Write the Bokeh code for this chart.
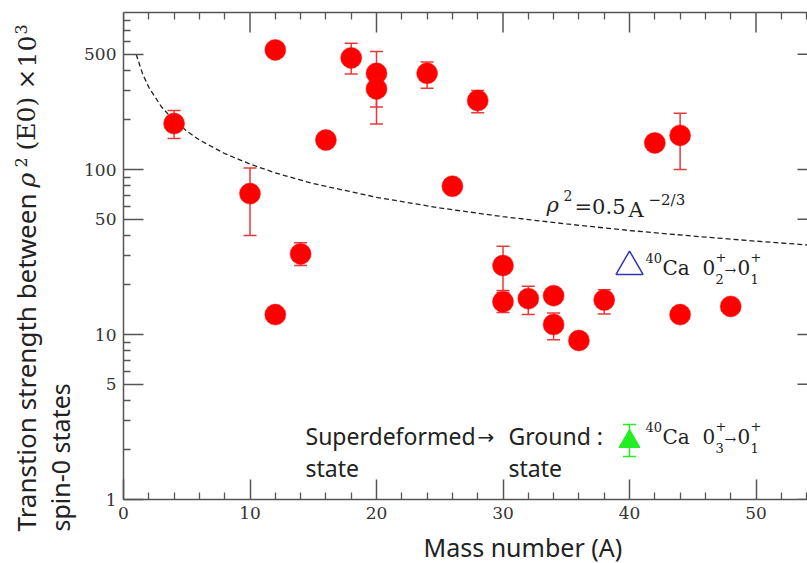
import math
from bokeh.plotting import figure
from bokeh.layouts import row, column
from bokeh.models import (FixedTicker, LinearAxis, Label, PrintfTickFormatter,
                          Range1d, ColumnDataSource)
from bokeh.embed import file_html
from bokeh.resources import INLINE

# ---------------- data ----------------
mass_number = [4, 10, 12, 12, 14, 16, 18, 20, 20, 24, 26, 28, 30, 30, 32, 34, 34, 36, 38, 42, 44, 44, 48]
rho2_e0 = [190, 71.5, 531, 13.2, 30.8, 151, 475, 383, 308, 383, 79.2, 262, 26.2, 15.8, 16.5, 17.2,
           11.5, 9.2, 16.2, 145, 161, 13.2, 14.8]

err_mass = [4, 10, 14, 18, 20, 20, 24, 28, 30, 30, 32, 34, 38, 44]
err_low = [154, 39.8, 26.2, 380, 239, 189, 311, 221, 18.5, 13.6, 13.2, 9.3, 13.3, 100]
err_high = [228, 102, 36.0, 582, 519, 383, 449, 301, 34.3, 18.0, 19.6, 13.5, 18.7, 219]

ca40_02_mass = [40]
ca40_02_rho = [25.8]

ca40_03_mass = [40]
ca40_03_rho = [2.25]
ca40_03_low = [1.82]
ca40_03_high = [2.85]

curve_mass = [1, 1.5, 2, 3, 4, 5, 6, 8, 10, 12, 15, 20, 25, 30, 35, 40, 45, 50, 55]
curve_rho = [500, 382, 315, 240, 198, 171, 151, 125, 108, 95.4, 82.2, 67.9, 58.5, 51.8, 46.8,
             42.7, 39.5, 36.8, 34.5]

x_major = [0, 10, 20, 30, 40, 50]
x_minor = [2, 4, 6, 8, 12, 14, 16, 18, 22, 24, 26, 28, 32, 34, 36, 38, 42, 44, 46, 48, 52, 54]
y_major = [1, 5, 10, 50, 100, 500]
y_minor = [2, 3, 4, 6, 7, 8, 9, 20, 30, 40, 60, 70, 80, 90, 200, 300, 400, 600, 700, 800]

X_END = 54.07
Y_END = 895

AXC = "#555555"
TXT = "#222222"
BASE = 0.43   # anchor sits this many em above the alphabetic baseline in the rendered text

# ---------------- layout sizes ----------------
W, H = 807, 563
YT_W = 80          # strip holding the y-axis title (full height)
XT_H = 33          # strip holding the x-axis title (under the main plot)
MAIN_W = W - YT_W
MAIN_H = H - XT_H


def blank(width, height):
    f = figure(width=width, height=height, x_range=Range1d(0, width), y_range=Range1d(0, height),
               output_backend="svg", toolbar_location=None, min_border=0,
               min_border_left=0, min_border_right=0, min_border_top=0, min_border_bottom=0,
               x_axis_location=None, y_axis_location=None)
    f.outline_line_color = None
    f.grid.visible = False
    return f


# ---------------- main figure ----------------
p = figure(width=MAIN_W, height=MAIN_H, x_range=Range1d(0, X_END), y_range=Range1d(1, Y_END),
           y_axis_type="log", output_backend="svg", toolbar_location=None,
           min_border_left=123 - YT_W, min_border_right=0, min_border_top=12,
           min_border_bottom=MAIN_H - 499)
p.xgrid.visible = False
p.ygrid.visible = False
p.outline_line_color = None


def style_axis(ax, major_in=20, minor_in=7):
    ax.axis_line_color = AXC
    ax.axis_line_width = 1.5
    ax.major_tick_line_color = AXC
    ax.major_tick_line_width = 1.5
    ax.minor_tick_line_color = AXC
    ax.minor_tick_line_width = 1.3
    ax.major_tick_in = major_in
    ax.major_tick_out = 0
    ax.minor_tick_in = minor_in
    ax.minor_tick_out = 0
    ax.major_label_text_font = "DejaVu Serif"
    ax.major_label_text_font_size = "17px"
    ax.major_label_text_color = "#333333"
    ax.major_label_standoff = 7


bx = p.xaxis[0]
bx.ticker = FixedTicker(ticks=x_major, minor_ticks=x_minor)
style_axis(bx)

ly = p.yaxis[0]
ly.ticker = FixedTicker(ticks=y_major, minor_ticks=y_minor)
ly.formatter = PrintfTickFormatter(format="%d")
style_axis(ly)

# top frame line with its short ticks (no labels)
top = LinearAxis(ticker=FixedTicker(ticks=[], minor_ticks=x_minor))
style_axis(top)
p.add_layout(top, "above")

# long top ticks and the right-edge stubs (half of each dash is clipped by the frame)
p.scatter(x_major, [Y_END] * len(x_major), marker="dash", angle=math.pi / 2, size=40,
          line_color=AXC, line_width=1.5)
p.scatter([X_END] * len(y_major), y_major, marker="dash", size=20, line_color=AXC, line_width=1.5)

# ---------------- glyphs ----------------
p.line(curve_mass, curve_rho, line_color="#222222", line_width=1.3, line_dash="5 3")

err_src = ColumnDataSource(dict(x=err_mass, lo=err_low, hi=err_high))
ERR = "#E8393A"
p.segment(x0="x", y0="lo", x1="x", y1="hi", source=err_src, line_color=ERR, line_width=1.5)
p.scatter(x="x", y="lo", source=err_src, marker="dash", size=13, line_color=ERR, line_width=1.5)
p.scatter(x="x", y="hi", source=err_src, marker="dash", size=13, line_color=ERR, line_width=1.5)

p.scatter(mass_number, rho2_e0, marker="circle", size=21, fill_color="#FF0000", line_color="#FF1010",
          line_width=0.5)

p.scatter(ca40_02_mass, ca40_02_rho, marker="triangle", size=27, fill_color=None,
          line_color="#3535B5", line_width=1.5)

GRN = "#22EE22"
p.segment(x0=ca40_03_mass, y0=ca40_03_low, x1=ca40_03_mass, y1=ca40_03_high, line_color=GRN, line_width=1.5)
p.scatter(ca40_03_mass, ca40_03_low, marker="dash", size=13, line_color=GRN, line_width=1.5)
p.scatter(ca40_03_mass, ca40_03_high, marker="dash", size=13, line_color=GRN, line_width=1.5)
p.scatter(ca40_03_mass, ca40_03_rho, marker="triangle", size=21, fill_color=GRN, line_color=GRN)

# ---------------- texts inside the frame ----------------
FL, FB = 123, 499  # frame left / bottom on the page


def lab(px, py, text, font="Noto Sans", size=23, style="normal", color=TXT):
    ay = py - BASE * size
    p.add_layout(Label(x=px - FL, y=FB - ay, x_units="screen", y_units="screen", text=text,
                       text_font=font, text_font_size=f"{size}px", text_font_style=style,
                       text_color=color, text_align="left", text_baseline="alphabetic"))


# formula label
lab(546, 214, "\u03c1", font="DejaVu Serif", size=21, style="italic")
lab(563, 201, "2", font="DejaVu Serif", size=14)
lab(574, 216, "=0.5", font="DejaVu Serif", size=21)
lab(628, 219, "A", font="DejaVu Serif", size=21)
lab(648, 206, "\u22122/3", font="DejaVu Serif", size=15)


def ca_label(dy, sub):
    lab(645, 263 + dy, "40", font="DejaVu Serif", size=13)
    lab(662, 276 + dy, "Ca", font="DejaVu Serif", size=20)
    lab(702, 276 + dy, "0", font="DejaVu Serif", size=20)
    lab(715, 262 + dy, "+", font="DejaVu Serif", size=13)
    lab(715, 284 + dy, sub, font="DejaVu Serif", size=13)
    lab(724, 276 + dy, "\u2192", font="DejaVu Serif", size=14)
    lab(737, 276 + dy, "0", font="DejaVu Serif", size=20)
    lab(750, 262 + dy, "+", font="DejaVu Serif", size=13)
    lab(750, 284 + dy, "1", font="DejaVu Serif", size=13)


ca_label(0, "2")
ca_label(169, "3")

lab(305, 445, "Superdeformed")
lab(477, 445, "\u2192", font="DejaVu Sans", size=20)
lab(508, 445, "Ground :")
lab(305, 477, "state")
lab(508, 477, "state")

# ---------------- y-axis title strip (full page height) ----------------
yt = blank(YT_W, H)


def vlab(px, py, text, font="Noto Sans", size=25, style="normal"):
    ax = px - BASE * size
    yt.add_layout(Label(x=ax, y=H - py, text=text, angle=math.pi / 2, text_font=font,
                        text_font_size=f"{size}px", text_font_style=style, text_color=TXT,
                        text_align="left", text_baseline="alphabetic"))


vlab(37, 531, "Transtion strength between", size=26)
vlab(37, 187, "\u03c1", font="DejaVu Serif", size=25, style="italic")
vlab(27, 167, "2", font="DejaVu Serif", size=16)
vlab(37, 150, "(E0)", font="DejaVu Serif", size=25)
vlab(37, 89, "\u00d7", font="DejaVu Serif", size=25)
vlab(37, 67, "10", font="DejaVu Serif", size=25)
vlab(27, 34, "3", font="DejaVu Serif", size=16)
vlab(70, 531, "spin-0 states")

# ---------------- x-axis title strip ----------------
xt = blank(MAIN_W, XT_H)
XT_SIZE = 25
xt.add_layout(Label(x=423 - YT_W, y=XT_H - (557 - MAIN_H) + BASE * XT_SIZE, text="Mass number (A)",
                    text_font="Noto Sans", text_font_size=f"{XT_SIZE}px", text_color=TXT,
                    text_align="left", text_baseline="alphabetic"))

# each plot wrapped on its own so that the layout does not line up their frames
layout = row(yt, column(column(p), row(xt), spacing=0), spacing=0)

open("out.html", "w").write(file_html(layout, INLINE))
